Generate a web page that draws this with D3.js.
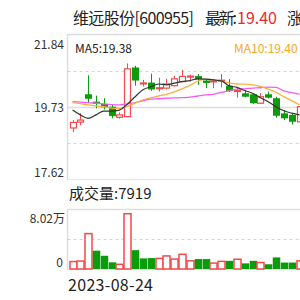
<!DOCTYPE html>
<html><head><meta charset="utf-8">
<script src="https://cdn.jsdelivr.net/npm/d3@7/dist/d3.min.js"></script>
<style>html,body{margin:0;padding:0;background:#fff;overflow:hidden}</style>
</head><body>
<svg id="c" width="300" height="300"></svg>
<script>
const openP  = [19.12,19.29,20.10,19.885,19.82,19.74,19.43,19.45,20.88,20.42,20.44,20.26,20.28,20.35,20.47,20.61,20.63,20.50,20.48,20.50,20.35,20.19,20.13,20.10,19.84,20.10,19.985,19.545,19.50,19.30];
const closeP = [19.28,19.35,19.97,19.82,19.72,19.47,19.50,20.84,20.50,20.43,20.24,20.29,20.40,20.55,20.62,20.63,20.54,20.43,20.49,20.51,20.20,20.21,20.03,19.84,20.03,20.00,19.475,19.40,19.30,19.74];
const highP  = [19.35,19.55,20.65,20.06,19.985,19.79,19.57,21.00,20.93,20.52,20.70,20.58,20.55,20.64,20.81,20.67,20.69,20.53,20.55,20.69,20.54,20.28,20.22,20.13,20.13,20.18,20.03,19.64,19.525,19.82];
const lowP   = [19.00,19.20,19.84,19.69,19.66,19.40,19.39,19.44,20.35,20.33,20.20,20.18,20.24,20.33,20.46,20.47,20.375,20.28,20.28,20.30,20.17,20.00,20.01,19.82,19.82,19.98,19.42,19.35,19.22,19.29];
const volume = [10000,10700,47700,24700,17800,9000,6300,74500,25400,14300,14700,14300,17600,13400,19800,11000,13400,13400,8000,10300,11000,13100,7600,11000,8700,6400,15600,8700,8700,11000];
const ma5  = [19.64,19.50,19.40,19.50,19.61,19.61,19.64,19.81,20.03,20.23,20.32,20.40,20.375,20.425,20.47,20.50,20.55,20.54,20.52,20.49,20.35,20.30,20.21,20.13,20.00,19.885,19.74,19.62,19.55,19.50];
const ma10 = [19.86,19.83,19.79,19.76,19.74,19.70,19.69,19.74,19.84,19.94,20.00,20.05,20.10,20.17,20.26,20.36,20.48,20.54,20.52,20.48,20.43,20.40,20.395,20.375,20.33,20.25,20.16,20.03,19.915,19.79];
const ma20 = [19.885,19.87,19.86,19.84,19.82,19.80,19.79,19.82,19.86,19.91,19.96,19.97,19.985,19.995,20.00,20.02,20.05,20.08,20.10,20.155,20.20,20.25,20.26,20.28,20.29,20.31,20.30,20.20,20.15,20.10];
const priceTicks = ["21.84","19.73","17.62"];
const volTicks = ["8.02万","0"];
const titleName = "维远股份[600955]";
const latestLabel = "最新:";
const latestValue = "19.40";
const changeLabel = "涨跌:";
const ma5Label = "MA5:19.38";
const ma10Label = "MA10:19.40";
const volLabel = "成交量:7919";
const dateLabel = "2023-08-24";

const RED = "#f24a4a", GREEN = "#0a9c0a";
const svg = d3.select("#c");
const font = "'Noto Sans CJK SC','Noto Sans',sans-serif";

const L = 67.5, R = 320;
const x = d3.scaleLinear().domain([0, 29]).range([72.5, 299.5]);
const y = d3.scaleLinear().domain([+priceTicks[2], +priceTicks[0]]).range([179.5, 34.5]);
const yv = d3.scaleLinear().domain([0, 80200]).range([269, 209.5]);

// price frame
const g = svg.append("g");
g.append("line").attr("x1", L).attr("x2", R).attr("y1", 34.5).attr("y2", 34.5).attr("stroke", "#ddd").attr("stroke-width", 1.5);
g.append("line").attr("x1", L).attr("x2", R).attr("y1", 179.5).attr("y2", 179.5).attr("stroke", "#e6e6e6");
g.append("line").attr("x1", L).attr("x2", L).attr("y1", 34).attr("y2", 180).attr("stroke", "#ddd").attr("stroke-width", 1.5);
const midP = (+priceTicks[0] + +priceTicks[2]) / 2;
g.append("line").attr("x1", L).attr("x2", R).attr("y1", Math.round(y(midP)) + 0.5).attr("y2", Math.round(y(midP)) + 0.5).attr("stroke", "#ddd").attr("stroke-width", 1.5);
[(+priceTicks[0] + midP) / 2, (+priceTicks[2] + midP) / 2].forEach(p => {
  g.append("line").attr("x1", L).attr("x2", R).attr("y1", Math.round(y(p)) + 0.5).attr("y2", Math.round(y(p)) + 0.5)
    .attr("stroke", "#d4d4d4").attr("stroke-dasharray", "3,3");
});

// volume frame
g.append("line").attr("x1", L).attr("x2", R).attr("y1", 209.5).attr("y2", 209.5).attr("stroke", "#ddd").attr("stroke-width", 1.5);
g.append("line").attr("x1", L).attr("x2", L).attr("y1", 209).attr("y2", 270).attr("stroke", "#ddd").attr("stroke-width", 1.5);
g.append("line").attr("x1", L).attr("x2", R).attr("y1", Math.round(yv(40100)) + 0.5).attr("y2", Math.round(yv(40100)) + 0.5)
  .attr("stroke", "#d4d4d4").attr("stroke-dasharray", "3,3");
g.append("line").attr("x1", L).attr("x2", R).attr("y1", 269.5).attr("y2", 269.5).attr("stroke", "#e6e6e6");

// axis labels
const tl = svg.append("g").attr("font-family", font).attr("font-size", 12).attr("fill", "#333").attr("text-anchor", "end");
tl.append("text").attr("x", 64).attr("y", y(+priceTicks[0]) + 14).text(priceTicks[0]);
tl.append("text").attr("x", 64).attr("y", y(+priceTicks[1]) + 4.5).text(priceTicks[1]);
tl.append("text").attr("x", 64).attr("y", y(+priceTicks[2]) - 3).text(priceTicks[2]);
tl.append("text").attr("x", 65).attr("y", yv(80200) + 13).text(volTicks[0]);
tl.append("text").attr("x", 63).attr("y", yv(0) - 2).text(volTicks[1]);

// candles
const idx = d3.range(openP.length);
const bw = 6;
const cg = svg.append("g");
idx.forEach(i => {
  const up = closeP[i] >= openP[i];
  const col = up ? RED : GREEN;
  const cx = Math.round(x(i)) + 0.5;
  cg.append("line").attr("x1", cx).attr("x2", cx).attr("y1", y(highP[i])).attr("y2", y(lowP[i])).attr("stroke", col).attr("stroke-width", 1);
  const top = y(Math.max(openP[i], closeP[i])), bot = y(Math.min(openP[i], closeP[i]));
  const h = Math.max(bot - top, 1);
  if (up) {
    cg.append("rect").attr("x", cx - bw / 2).attr("y", top).attr("width", bw).attr("height", h)
      .attr("fill", "#fff").attr("stroke", col).attr("stroke-width", 1.2);
  } else {
    cg.append("rect").attr("x", cx - bw / 2 - 0.5).attr("y", top).attr("width", bw + 1).attr("height", h).attr("fill", col);
  }
});

// MA lines
const line = arr => d3.line().x((d, i) => x(i)).y(d => y(d)).curve(d3.curveMonotoneX)(arr);
svg.append("path").attr("d", line(ma20)).attr("fill", "none").attr("stroke", "#f25cf2").attr("stroke-width", 1.3);
svg.append("path").attr("d", line(ma10)).attr("fill", "none").attr("stroke", "#f7b041").attr("stroke-width", 1.3);
svg.append("path").attr("d", line(ma5)).attr("fill", "none").attr("stroke", "#333").attr("stroke-width", 1.2);

// volume bars
const vg = svg.append("g");
idx.forEach(i => {
  const prev = i === 0 ? openP[0] : closeP[i - 1];
  const up = closeP[i] >= prev;
  const cx = Math.round(x(i)) + 0.5;
  const top = yv(volume[i]);
  if (up) {
    vg.append("rect").attr("x", cx - 3.5).attr("y", top).attr("width", 7).attr("height", yv(0) - top)
      .attr("fill", "#fff").attr("stroke", RED).attr("stroke-width", 1.5);
  } else {
    vg.append("rect").attr("x", cx - 3.75).attr("y", top).attr("width", 7.5).attr("height", yv(0) - top).attr("fill", GREEN);
  }
});

// texts
const tg = svg.append("g").attr("font-family", font).attr("font-size", 16).attr("fill", "#222");
tg.append("text").attr("x", 73).attr("y", 24).attr("textLength", 121).text(titleName);
tg.append("text").attr("x", 205).attr("y", 24).attr("textLength", 32).text(latestLabel);
tg.append("text").attr("x", 237).attr("y", 24).attr("textLength", 40).attr("fill", "#f0262e").text(latestValue);
tg.append("text").attr("x", 287).attr("y", 24).text(changeLabel);

svg.append("text").attr("x", 75).attr("y", 52.5).attr("font-family", font).attr("font-size", 12).attr("fill", "#222").text(ma5Label);
svg.append("text").attr("x", 234).attr("y", 52.5).attr("font-family", font).attr("font-size", 12).attr("fill", "#f7a823").text(ma10Label);
svg.append("text").attr("x", 69).attr("y", 199).attr("font-family", font).attr("font-size", 15).attr("fill", "#222").text(volLabel);
svg.append("text").attr("x", 68).attr("y", 291).attr("font-family", font).attr("font-size", 16).attr("textLength", 85).attr("fill", "#222").text(dateLabel);
</script>
</body></html>
